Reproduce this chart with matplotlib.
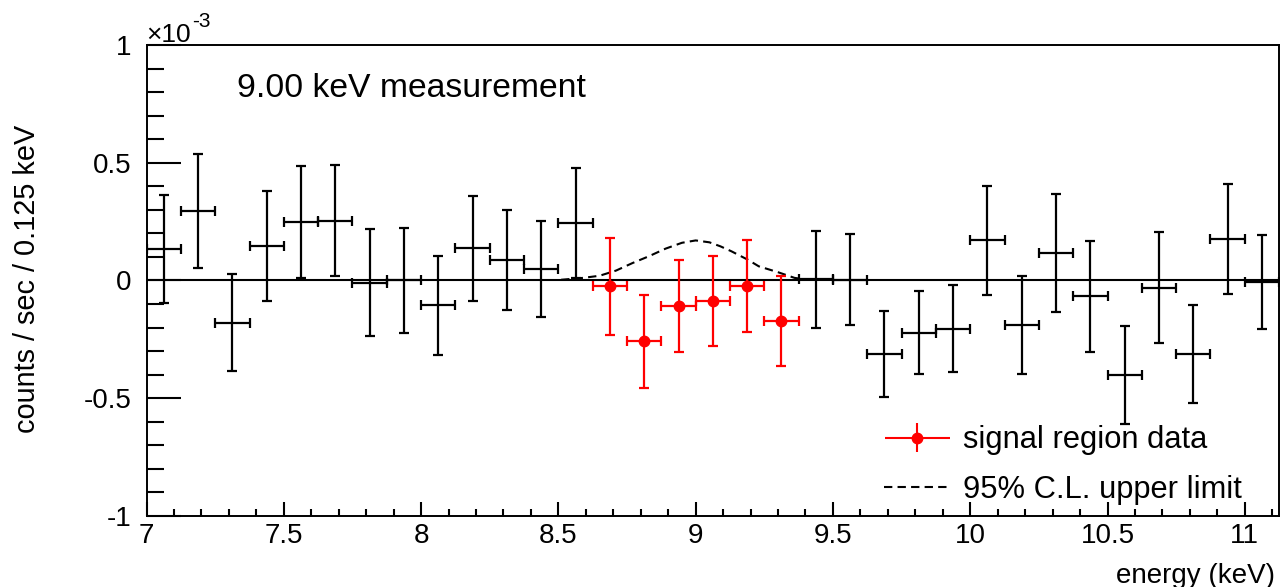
"""
plot.py — 9.00 keV measurement, residual spectrum with 95% C.L. upper limit
"""

import numpy as np
import matplotlib
matplotlib.use("Agg")
import matplotlib.pyplot as plt
from matplotlib.ticker import MultipleLocator, FuncFormatter
from matplotlib.legend_handler import HandlerErrorbar

# ─────────────────────────────────────────────────────────
#  Datos (counts / sec / 0.125 keV, en unidades de 1e-3)
# ─────────────────────────────────────────────────────────
BIN_HALF = 0.0625

bkg_energy = [7.0625, 7.1875, 7.3125, 7.4375, 7.5625, 7.6875, 7.8125, 7.9375,
              8.0625, 8.1875, 8.3125, 8.4375, 8.5625,
              9.4375, 9.5625, 9.6875, 9.8125, 9.9375, 10.0625, 10.1875,
              10.3125, 10.4375, 10.5625, 10.6875, 10.8125, 10.9375, 11.0625]
bkg_rate = [0.135, 0.294, -0.179, 0.145, 0.247, 0.254, -0.010, 0.000,
            -0.105, 0.136, 0.088, 0.048, 0.244,
            0.005, 0.003, -0.312, -0.221, -0.204, 0.171, -0.190,
            0.116, -0.068, -0.400, -0.030, -0.313, 0.176, -0.006]
bkg_err = [0.230, 0.243, 0.205, 0.234, 0.237, 0.236, 0.227, 0.224,
           0.210, 0.224, 0.213, 0.205, 0.233,
           0.206, 0.193, 0.182, 0.177, 0.185, 0.232, 0.207,
           0.251, 0.237, 0.208, 0.235, 0.207, 0.232, 0.200]

sig_energy = [8.6875, 8.8125, 8.9375, 9.0625, 9.1875, 9.3125]
sig_rate = [-0.024, -0.258, -0.109, -0.088, -0.024, -0.173]
sig_err = [0.206, 0.197, 0.194, 0.192, 0.195, 0.190]

# curva del límite superior
ul_energy = [8.51, 8.59, 8.65, 8.71, 8.77, 8.83, 8.89, 8.95, 9.00,
             9.05, 9.09, 9.13, 9.19, 9.23, 9.30, 9.36, 9.41]
ul_rate = [0.003, 0.011, 0.020, 0.042, 0.074, 0.103, 0.135, 0.160, 0.170,
           0.162, 0.145, 0.124, 0.088, 0.060, 0.035, 0.011, 0.003]

X_MIN, X_MAX = 7.0, 11.125
Y_MIN, Y_MAX = -1.0, 1.0

# ─────────────────────────────────────────────────────────
#  Estilo
# ─────────────────────────────────────────────────────────
plt.rcParams["font.family"] = ["Liberation Sans", "DejaVu Sans"]
plt.rcParams["axes.unicode_minus"] = False

fig = plt.figure(figsize=(12.8, 5.87), dpi=100)
ax = fig.add_axes([0.1145, 0.121, 0.8848, 0.8024])

# línea de cero
ax.axhline(0, color="black", linewidth=1.5, zorder=1)

# datos fuera de la región de señal
ax.errorbar(bkg_energy, bkg_rate,
            xerr=BIN_HALF, yerr=bkg_err,
            fmt="none", ecolor="black", elinewidth=1.6,
            capsize=3.5, capthick=1.6, zorder=3)

# datos de la región de señal
ax.errorbar(sig_energy, sig_rate,
            xerr=BIN_HALF, yerr=sig_err,
            fmt="o", color="red", markersize=7.5, ecolor="red",
            elinewidth=1.6, capsize=3.5, capthick=1.6, zorder=4)

# límite superior 95% C.L.
ul_line, = ax.plot(ul_energy, ul_rate, color="black", linewidth=1.5,
                   dashes=(4, 2.5), zorder=2)

# ─────────────────────────────────────────────────────────
#  Ejes
# ─────────────────────────────────────────────────────────
ax.set_xlim(X_MIN, X_MAX)
ax.set_ylim(Y_MIN, Y_MAX)

ax.xaxis.set_major_locator(MultipleLocator(0.5))
ax.xaxis.set_minor_locator(MultipleLocator(0.1))
ax.yaxis.set_major_locator(MultipleLocator(0.5))
ax.yaxis.set_minor_locator(MultipleLocator(0.1))
fmt = FuncFormatter(lambda v, pos: f"{v:g}")
ax.xaxis.set_major_formatter(fmt)
ax.yaxis.set_major_formatter(fmt)

ax.tick_params(axis="both", which="both", direction="in",
               top=False, right=False, width=1.5, labelsize=20)
ax.tick_params(axis="y", which="major", length=24.5, pad=11)
ax.tick_params(axis="y", which="minor", length=12.2)
ax.tick_params(axis="x", which="major", length=9.9, pad=5)
ax.tick_params(axis="x", which="minor", length=5)

for sp in ax.spines.values():
    sp.set_linewidth(1.4)

# etiquetas
fig.text(0.996, 0.006, "energy (keV)", ha="right", va="baseline", fontsize=20)
fig.text(0.021, 0.525, "counts / sec / 0.125 keV", rotation=90,
         ha="center", va="center", fontsize=20.8)
fig.text(146 / 1280, 1 - 42 / 587, "\u00d710", ha="left", va="baseline",
         fontsize=19)
fig.text(192 / 1280, 1 - 27 / 587, "-3", ha="left", va="baseline",
         fontsize=15)
fig.text(237 / 1280, 1 - 97 / 587, "9.00 keV measurement", ha="left",
         va="baseline", fontsize=24.3)

# ─────────────────────────────────────────────────────────
#  Leyenda
# ─────────────────────────────────────────────────────────
proxy = ax.errorbar([np.nan], [np.nan], xerr=[BIN_HALF], yerr=[0.1],
                    fmt="o", color="red", markersize=7.5, ecolor="red",
                    elinewidth=1.5, capsize=0)
ax.legend([proxy, ul_line],
          ["signal region data", "95% C.L. upper limit"],
          handler_map={type(proxy): HandlerErrorbar(xerr_size=1.05,
                                                    yerr_size=0.46)},
          loc="center left", bbox_to_anchor=(884 / 1280, 1 - 465 / 587),
          bbox_transform=fig.transFigure, frameon=False, fontsize=22.2,
          handlelength=2.15, handletextpad=0.4, borderpad=0,
          borderaxespad=0, labelspacing=0.62)

fig.savefig("out.png", dpi=100)
